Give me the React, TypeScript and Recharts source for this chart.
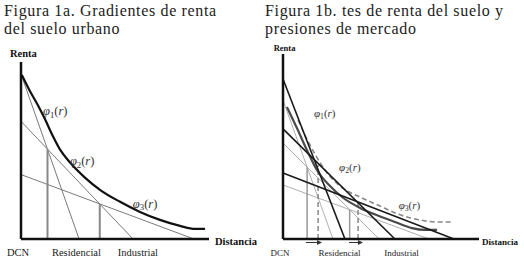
import React from 'react';
import { LineChart, Line, XAxis, YAxis, ReferenceDot, ReferenceLine } from 'recharts';

type P = { x: number; y: number };

const SERIF = '"Liberation Serif", "Times New Roman", serif';

// ---------- shared ----------
const zoneLabels = ['DCN', 'Residencial', 'Industrial'];
const axisTitles = { y: 'Renta', x: 'Distancia' };
const titleA = ['Figura 1a. Gradientes de renta', 'del suelo urbano'];
const titleB = ['Figura 1b. tes de renta del suelo y', 'presiones de mercado'];

// ---------- Figura 1a ----------
const zoneTicksA = [-1.6, 29.5, 62.2];
const rentGradientA: P[] = [
  { x: 0.5, y: 92.6 }, { x: 4.8, y: 83.5 }, { x: 9.0, y: 75.6 }, { x: 12.8, y: 67.6 },
  { x: 17.0, y: 58.0 }, { x: 20.7, y: 50.6 }, { x: 26.1, y: 43.2 }, { x: 34.0, y: 34.7 },
  { x: 42.0, y: 27.8 }, { x: 52.7, y: 21.0 }, { x: 63.3, y: 15.3 }, { x: 73.9, y: 10.8 },
  { x: 84.6, y: 7.4 }, { x: 92.6, y: 5.7 }, { x: 97.9, y: 5.7 },
];
const bidLine1A: P[] = [{ x: 0, y: 93.2 }, { x: 30.9, y: 0 }];
const bidLine2A: P[] = [{ x: 0, y: 66.5 }, { x: 59.6, y: 0 }];
const bidLine3A: P[] = [{ x: 0, y: 36.4 }, { x: 92, y: 0 }];
const boundary1A: P[] = [{ x: 14.1, y: 0 }, { x: 14.1, y: 50.6 }];
const boundary2A: P[] = [{ x: 41.9, y: 0 }, { x: 41.9, y: 19.7 }];
const phiLabelsA = [
  { x: 11.7, y: 69.9, sub: '1' },
  { x: 26.0, y: 41.8, sub: '2' },
  { x: 59.5, y: 17.6, sub: '3' },
];
const axisTitlePosA = { renta: { x: 1.3, y: 102.8 }, dist: { x: 103.2, y: -3.4 } };

// ---------- Figura 1b ----------
const zoneTicksB = [-1.5, 28.8, 60.5];
const oldGradientB: P[] = [
  { x: 2.0, y: 71.4 }, { x: 7.1, y: 60.0 }, { x: 12.2, y: 48.1 }, { x: 17.3, y: 37.3 },
  { x: 24.0, y: 28.6 }, { x: 30.1, y: 22.7 }, { x: 39.3, y: 16.8 }, { x: 49.0, y: 12.4 },
  { x: 57.1, y: 9.2 }, { x: 65.8, y: 5.9 }, { x: 72.4, y: 4.9 }, { x: 78.6, y: 4.9 },
];
const newGradientB: P[] = [
  { x: 7.7, y: 64.3 }, { x: 11.7, y: 55.1 }, { x: 16.3, y: 45.9 }, { x: 23.0, y: 35.1 },
  { x: 29.1, y: 28.6 }, { x: 40.3, y: 22.2 }, { x: 49.5, y: 17.8 }, { x: 57.1, y: 14.1 },
  { x: 69.9, y: 10.3 }, { x: 78.6, y: 9.2 }, { x: 86.2, y: 9.2 },
];
const newBid1B: P[] = [{ x: 0, y: 86.5 }, { x: 31.6, y: 0 }];
const newBid2B: P[] = [{ x: 0, y: 59.5 }, { x: 57.1, y: 0 }];
const newBid3B: P[] = [{ x: 0, y: 35.7 }, { x: 87.2, y: 0 }];
const oldBid1B: P[] = [{ x: 0, y: 75.1 }, { x: 25.5, y: 0 }];
const oldBid2B: P[] = [{ x: 0, y: 51.9 }, { x: 49.0, y: 0 }];
const oldBid3B: P[] = [{ x: 0, y: 29.2 }, { x: 74.5, y: 0 }];
const oldBoundary1B: P[] = [{ x: 12.3, y: 0 }, { x: 12.3, y: 38.9 }];
const oldBoundary2B: P[] = [{ x: 34.0, y: 0 }, { x: 34.0, y: 15.9 }];
const newBoundary1B: P[] = [{ x: 17.9, y: 0 }, { x: 17.9, y: 40.0 }];
const newBoundary2B: P[] = [{ x: 38.3, y: 0 }, { x: 38.3, y: 20.0 }];
const shiftArrowsB = [
  { from: 11.7, to: 19.9, y: -1.9 },
  { from: 33.7, to: 40.8, y: -1.9 },
];
const phiLabelsB = [
  { x: 15.8, y: 66.0, sub: '1' },
  { x: 28.6, y: 36.8, sub: '2' },
  { x: 59.0, y: 16.2, sub: '3' },
];
const axisTitlePosB = { renta: { x: 0.8, y: 101.6 }, dist: { x: 101.5, y: -3.0 } };

// ---------- helpers ----------
const zoneTick = (ticks: number[], fontSize: number, dy: number) => (props: any) => {
  const i = ticks.indexOf(props.payload?.value);
  return (
    <text x={props.x} y={props.y + dy} textAnchor="middle" fontFamily={SERIF} fontSize={fontSize} fill="#222">
      {zoneLabels[i] ?? ''}
    </text>
  );
};

const phiShape = (sub: string, size: number) => (p: any) => (
  <text x={p.cx} y={p.cy} fontFamily={SERIF} fontSize={size} fill="#333">
    <tspan fontStyle="italic">φ</tspan>
    <tspan fontSize={size * 0.7} dy={size * 0.2}>{sub}</tspan>
    <tspan dy={-size * 0.2}>(</tspan>
    <tspan fontStyle="italic">r</tspan>
    <tspan>)</tspan>
  </text>
);

const textShape = (label: string, size: number, anchor: string) => (p: any) => (
  <text x={p.cx} y={p.cy} fontFamily={SERIF} fontWeight="bold" fontSize={size} fill="#111" textAnchor={anchor}>
    {label}
  </text>
);

const arrowHead = (p: any) => (
  <polygon points={`${p.cx},${p.cy} ${p.cx - 5},${p.cy - 2.5} ${p.cx - 5},${p.cy + 2.5}`} fill="#333" />
);

const titleStyle = (left: number): React.CSSProperties => ({
  position: 'absolute',
  left,
  top: 2,
  fontFamily: SERIF,
  fontSize: 16,
  lineHeight: '18px',
  letterSpacing: '0.65px',
  color: '#222',
  whiteSpace: 'nowrap',
});

export default function App() {
  return (
    <div style={{ position: 'absolute', left: 0, top: 0, width: 524, height: 261, background: '#fff', overflow: 'hidden' }}>
      <div style={titleStyle(4)}>
        <div>{titleA[0]}</div>
        <div>{titleA[1]}</div>
      </div>
      <div style={titleStyle(265)}>
        <div>{titleB[0]}</div>
        <div>{titleB[1]}</div>
      </div>

      {/* Figura 1a */}
      <div style={{ position: 'absolute', left: 0, top: 0 }}>
        <LineChart width={262} height={261} margin={{ top: 62, right: 53, bottom: 0, left: 0 }}>
          <XAxis
            type="number"
            dataKey="x"
            domain={[0, 100]}
            ticks={zoneTicksA}
            interval={0}
            tick={zoneTick(zoneTicksA, 10.5, 8.5)}
            tickLine={false}
            axisLine={{ stroke: '#111', strokeWidth: 2.5 }}
            height={22}
          />
          <YAxis type="number" domain={[0, 100]} tick={false} tickLine={false} axisLine={{ stroke: '#111', strokeWidth: 2.5 }} width={21} />
          <Line data={bidLine1A} dataKey="y" type="linear" stroke="#7a7a7a" strokeWidth={1} dot={false} isAnimationActive={false} />
          <Line data={bidLine2A} dataKey="y" type="linear" stroke="#7a7a7a" strokeWidth={1} dot={false} isAnimationActive={false} />
          <Line data={bidLine3A} dataKey="y" type="linear" stroke="#7a7a7a" strokeWidth={1} dot={false} isAnimationActive={false} />
          <Line data={boundary1A} dataKey="y" type="linear" stroke="#888" strokeWidth={2} dot={false} isAnimationActive={false} />
          <Line data={boundary2A} dataKey="y" type="linear" stroke="#888" strokeWidth={2} dot={false} isAnimationActive={false} />
          <Line data={rentGradientA} dataKey="y" type="monotone" stroke="#111" strokeWidth={2.2} dot={false} isAnimationActive={false} />
          {phiLabelsA.map((l) => (
            <ReferenceDot key={'pa' + l.sub} x={l.x} y={l.y} r={0} ifOverflow="visible" shape={phiShape(l.sub, 12.5)} />
          ))}
          <ReferenceDot x={axisTitlePosA.renta.x} y={axisTitlePosA.renta.y} r={0} ifOverflow="visible" shape={textShape(axisTitles.y, 10.5, 'middle')} />
          <ReferenceDot x={axisTitlePosA.dist.x} y={axisTitlePosA.dist.y} r={0} ifOverflow="visible" shape={textShape(axisTitles.x, 10.5, 'start')} />
        </LineChart>
      </div>

      {/* Figura 1b */}
      <div style={{ position: 'absolute', left: 262, top: 0 }}>
        <LineChart width={262} height={261} margin={{ top: 54, right: 45, bottom: 0, left: 0 }}>
          <XAxis
            type="number"
            dataKey="x"
            domain={[0, 100]}
            ticks={zoneTicksB}
            interval={0}
            tick={zoneTick(zoneTicksB, 9, 8.5)}
            tickLine={false}
            axisLine={{ stroke: '#111', strokeWidth: 2.5 }}
            height={22}
          />
          <YAxis type="number" domain={[0, 100]} tick={false} tickLine={false} axisLine={{ stroke: '#111', strokeWidth: 2.5 }} width={21} />
          <Line data={oldBid1B} dataKey="y" type="linear" stroke="#b0b0b0" strokeWidth={1} dot={false} isAnimationActive={false} />
          <Line data={oldBid2B} dataKey="y" type="linear" stroke="#b0b0b0" strokeWidth={1} dot={false} isAnimationActive={false} />
          <Line data={oldBid3B} dataKey="y" type="linear" stroke="#b0b0b0" strokeWidth={1} dot={false} isAnimationActive={false} />
          <Line data={oldBoundary1B} dataKey="y" type="linear" stroke="#999" strokeWidth={1.5} dot={false} isAnimationActive={false} />
          <Line data={oldBoundary2B} dataKey="y" type="linear" stroke="#999" strokeWidth={1.5} dot={false} isAnimationActive={false} />
          <Line data={newBoundary1B} dataKey="y" type="linear" stroke="#888" strokeWidth={1.5} strokeDasharray="5 3" dot={false} isAnimationActive={false} />
          <Line data={newBoundary2B} dataKey="y" type="linear" stroke="#888" strokeWidth={1.5} strokeDasharray="5 3" dot={false} isAnimationActive={false} />
          <Line data={newGradientB} dataKey="y" type="monotone" stroke="#888" strokeWidth={1.6} strokeDasharray="5 3" dot={false} isAnimationActive={false} />
          <Line data={oldGradientB} dataKey="y" type="monotone" stroke="#4a4a4a" strokeWidth={2.2} dot={false} isAnimationActive={false} />
          <Line data={newBid1B} dataKey="y" type="linear" stroke="#1a1a1a" strokeWidth={1.6} dot={false} isAnimationActive={false} />
          <Line data={newBid2B} dataKey="y" type="linear" stroke="#1a1a1a" strokeWidth={1.6} dot={false} isAnimationActive={false} />
          <Line data={newBid3B} dataKey="y" type="linear" stroke="#1a1a1a" strokeWidth={1.6} dot={false} isAnimationActive={false} />
          {shiftArrowsB.map((a, i) => (
            <ReferenceLine
              key={'sa' + i}
              segment={[{ x: a.from, y: a.y }, { x: a.to - 1.5, y: a.y }]}
              stroke="#333"
              strokeWidth={1}
              ifOverflow="visible"
            />
          ))}
          {shiftArrowsB.map((a, i) => (
            <ReferenceDot key={'ah' + i} x={a.to} y={a.y} r={0} ifOverflow="visible" shape={arrowHead} />
          ))}
          {phiLabelsB.map((l) => (
            <ReferenceDot key={'pb' + l.sub} x={l.x} y={l.y} r={0} ifOverflow="visible" shape={phiShape(l.sub, 11)} />
          ))}
          <ReferenceDot x={axisTitlePosB.renta.x} y={axisTitlePosB.renta.y} r={0} ifOverflow="visible" shape={textShape(axisTitles.y, 8.5, 'middle')} />
          <ReferenceDot x={axisTitlePosB.dist.x} y={axisTitlePosB.dist.y} r={0} ifOverflow="visible" shape={textShape(axisTitles.x, 9, 'start')} />
        </LineChart>
      </div>
    </div>
  );
}
